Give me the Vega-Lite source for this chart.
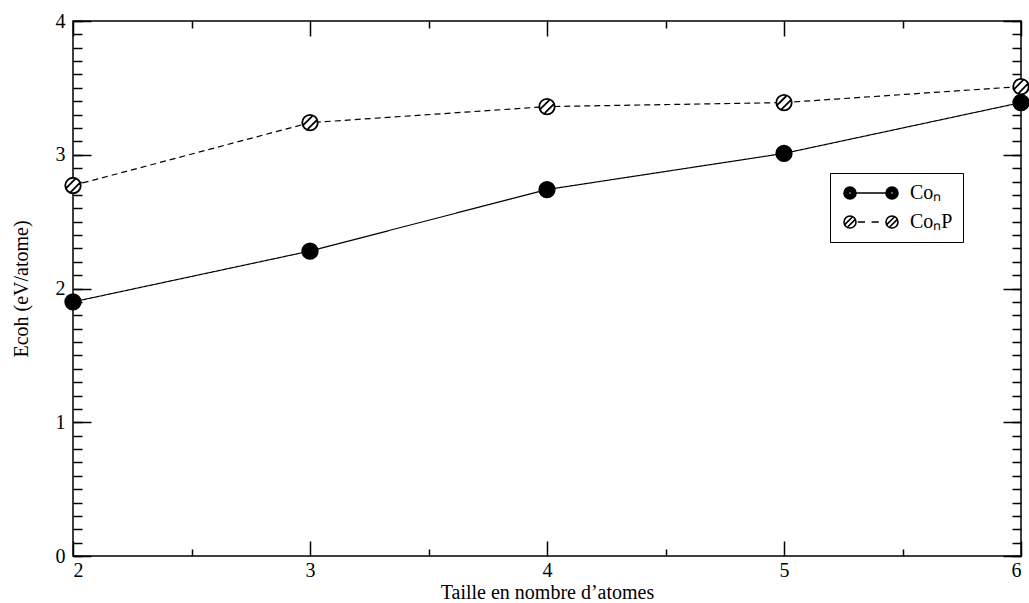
{
  "$schema": "https://vega.github.io/schema/vega-lite/v6.json",
  "width": 948,
  "height": 535,
  "autosize": "none",
  "padding": {"left": 73, "top": 21, "right": 8, "bottom": 47},
  "background": "white",
  "config": {
    "view": {"stroke": "black", "strokeWidth": 1.5},
    "font": "Liberation Serif",
    "axis": {
      "grid": false,
      "domain": false,
      "tickColor": "black",
      "tickWidth": 1.5,
      "labelFont": "Liberation Serif",
      "labelFontSize": 20,
      "labelColor": "black",
      "titleFont": "Liberation Serif",
      "titleFontSize": 20,
      "titleFontWeight": "normal",
      "titleColor": "black"
    }
  },
  "data": {
    "values": [
      {"n": 2, "E": 1.90, "series": "Coₙ"},
      {"n": 3, "E": 2.28, "series": "Coₙ"},
      {"n": 4, "E": 2.74, "series": "Coₙ"},
      {"n": 5, "E": 3.01, "series": "Coₙ"},
      {"n": 6, "E": 3.39, "series": "Coₙ"},
      {"n": 2, "E": 2.77, "series": "CoₙP"},
      {"n": 3, "E": 3.24, "series": "CoₙP"},
      {"n": 4, "E": 3.36, "series": "CoₙP"},
      {"n": 5, "E": 3.39, "series": "CoₙP"},
      {"n": 6, "E": 3.51, "series": "CoₙP"}
    ]
  },
  "resolve": {
    "axis": {"x": "independent", "y": "independent"},
    "scale": {"shape": "independent", "fill": "independent"}
  },
  "layer": [
    {
      "mark": {"type": "line", "color": "black", "strokeWidth": 1.2},
      "encoding": {
        "x": {
          "field": "n", "type": "quantitative",
          "scale": {"domain": [2, 6], "nice": false, "zero": false},
          "axis": {
            "orient": "bottom",
            "title": "Taille en nombre d’atomes",
            "values": [2, 3, 4, 5, 6],
            "format": "d",
            "ticks": false,
            "tickSize": 0,
            "labelPadding": 4,
            "titlePadding": 2
          }
        },
        "y": {
          "field": "E", "type": "quantitative",
          "scale": {"domain": [0, 4], "nice": false},
          "axis": {
            "orient": "left",
            "title": "Ecoh (eV/atome)",
            "values": [0, 1, 2, 3, 4],
            "format": "d",
            "ticks": false,
            "tickSize": 0,
            "labelPadding": 8,
            "titlePadding": 24
          }
        },
        "strokeDash": {
          "field": "series", "type": "nominal",
          "scale": {"domain": ["Coₙ", "CoₙP"], "range": [[1, 0], [6, 4]]},
          "legend": null
        }
      }
    },
    {
      "mark": {"type": "point", "filled": false, "opacity": 1, "stroke": "black", "strokeWidth": 1.8, "size": 240},
      "encoding": {
        "x": {
          "field": "n", "type": "quantitative",
          "axis": {"orient": "bottom", "title": null, "labels": false, "values": [2, 3, 4, 5, 6], "tickSize": -15}
        },
        "y": {
          "field": "E", "type": "quantitative",
          "axis": {"orient": "left", "title": null, "labels": false, "values": [0, 1, 2, 3, 4], "tickSize": -18}
        },
        "fill": {
          "field": "series", "type": "nominal",
          "scale": {"domain": ["Coₙ", "CoₙP"], "range": ["black", "white"]},
          "legend": null
        },
        "shape": {
          "field": "series", "type": "nominal",
          "scale": {
            "domain": ["Coₙ", "CoₙP"],
            "range": [
              "M-1,0A1,1,0,1,1,1,0A1,1,0,1,1,-1,0Z",
              "M-1,0A1,1,0,1,1,1,0A1,1,0,1,1,-1,0Z M-0.85,0.3L0.3,-0.85 M-0.3,0.85L0.85,-0.3"
            ]
          },
          "legend": null
        }
      }
    },
    {
      "mark": {"type": "point", "filled": false, "opacity": 0, "stroke": "black", "size": 144},
      "encoding": {
        "x": {
          "field": "n", "type": "quantitative",
          "axis": {"orient": "bottom", "title": null, "labels": false, "values": [2.5, 3.5, 4.5, 5.5], "tickSize": -7}
        },
        "y": {
          "field": "E", "type": "quantitative",
          "axis": {"orient": "left", "title": null, "labels": false, "tickCount": 100, "values": [0, 0.1, 0.2, 0.3, 0.4, 0.5, 0.6, 0.7, 0.8, 0.9, 1, 1.1, 1.2, 1.3, 1.4, 1.5, 1.6, 1.7, 1.8, 1.9, 2, 2.1, 2.2, 2.3, 2.4, 2.5, 2.6, 2.7, 2.8, 2.9, 3, 3.1, 3.2, 3.3, 3.4, 3.5, 3.6, 3.7, 3.8, 3.9, 4], "tickSize": -9}
        },
        "shape": {
          "field": "series", "type": "nominal",
          "scale": {
            "domain": ["Coₙ", "CoₙP"],
            "range": [
              "M-1,0A1,1,0,1,1,1,0A1,1,0,1,1,-1,0Z M-0.75,0A0.75,0.75,0,1,1,0.75,0A0.75,0.75,0,1,1,-0.75,0Z M-0.5,0A0.5,0.5,0,1,1,0.5,0A0.5,0.5,0,1,1,-0.5,0Z M-0.25,0A0.25,0.25,0,1,1,0.25,0A0.25,0.25,0,1,1,-0.25,0Z M6,0A1,1,0,1,1,8,0A1,1,0,1,1,6,0Z M6.25,0A0.75,0.75,0,1,1,7.75,0A0.75,0.75,0,1,1,6.25,0Z M6.5,0A0.5,0.5,0,1,1,7.5,0A0.5,0.5,0,1,1,6.5,0Z M6.75,0A0.25,0.25,0,1,1,7.25,0A0.25,0.25,0,1,1,6.75,0Z M1,0L6,0",
              "M-1,0A1,1,0,1,1,1,0A1,1,0,1,1,-1,0Z M6,0A1,1,0,1,1,8,0A1,1,0,1,1,6,0Z M-0.8,0.35L0.35,-0.8 M-0.35,0.8L0.8,-0.35 M6.2,0.35L7.35,-0.8 M6.65,0.8L7.8,-0.35 M1.3,0L2.5,0 M3.6,0L4.8,0"
            ]
          },
          "legend": {
            "orient": "none",
            "legendX": 757,
            "legendY": 152,
            "title": null,
            "padding": 10,
            "strokeColor": "black",
            "fillColor": "white",
            "symbolSize": 144,
            "symbolOpacity": 1,
            "symbolFillColor": "white",
            "symbolStrokeColor": "black",
            "symbolStrokeWidth": 1.6,
            "labelOffset": 50,
            "rowPadding": 9,
            "labelFont": "Liberation Serif",
            "labelFontSize": 20,
            "labelColor": "black"
          }
        }
      }
    },
    {
      "mark": {"type": "point", "opacity": 0},
      "encoding": {
        "x": {
          "field": "n", "type": "quantitative",
          "axis": {"orient": "top", "title": null, "labels": false, "values": [2, 3, 4, 5, 6], "tickSize": -15}
        },
        "y": {
          "field": "E", "type": "quantitative",
          "axis": {"orient": "right", "title": null, "labels": false, "values": [0, 1, 2, 3, 4], "tickSize": -18}
        }
      }
    },
    {
      "mark": {"type": "point", "opacity": 0},
      "encoding": {
        "x": {
          "field": "n", "type": "quantitative",
          "axis": {"orient": "top", "title": null, "labels": false, "values": [2.5, 3.5, 4.5, 5.5], "tickSize": -7}
        },
        "y": {
          "field": "E", "type": "quantitative",
          "axis": {"orient": "right", "title": null, "labels": false, "tickCount": 100, "values": [0, 0.1, 0.2, 0.3, 0.4, 0.5, 0.6, 0.7, 0.8, 0.9, 1, 1.1, 1.2, 1.3, 1.4, 1.5, 1.6, 1.7, 1.8, 1.9, 2, 2.1, 2.2, 2.3, 2.4, 2.5, 2.6, 2.7, 2.8, 2.9, 3, 3.1, 3.2, 3.3, 3.4, 3.5, 3.6, 3.7, 3.8, 3.9, 4], "tickSize": -9}
        }
      }
    }
  ]
}
